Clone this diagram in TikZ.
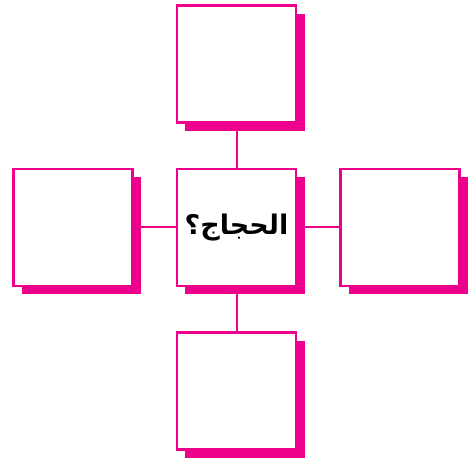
\documentclass[tikz,border=0pt]{standalone}
\usepackage{fontspec}
\usepackage{tikz}
\usetikzlibrary{positioning,shadows,backgrounds}
\TeXXeTstate=1
\newfontfamily\arabicfont[Script=Arabic,BoldFont={DejaVu Sans Bold}]{DejaVu Sans}
\definecolor{magenta}{HTML}{EC008C}

\begin{document}
\begin{tikzpicture}[x=1pt,y=1pt,node distance=44pt and 42pt, box/.style={draw=magenta,line width=2.4pt,fill=white,minimum width=119pt,minimum height=117pt,inner sep=0pt,align=center,drop shadow={shadow xshift=8.5pt,shadow yshift=-8.5pt,fill=magenta,opacity=1}},lin/.style={draw=magenta,line width=2pt}]
\useasboundingbox (-236.5,-234.5) rectangle (231.5,227.5);
\node[box] (ctr) {\fontsize{27}{30}\selectfont\arabicfont\bfseries\beginR الحجاج؟\endR};
\node[box,above=of ctr] (top) {};
\node[box,below=of ctr] (bot) {};
\node[box,left=of ctr] (lft) {};
\node[box,right=of ctr] (rgt) {};
\begin{pgfonlayer}{background}
\draw[lin] (top)--(ctr); \draw[lin] (ctr)--(bot); \draw[lin] (lft)--(ctr); \draw[lin] (ctr)--(rgt);
\end{pgfonlayer}
\end{tikzpicture}
\end{document}
